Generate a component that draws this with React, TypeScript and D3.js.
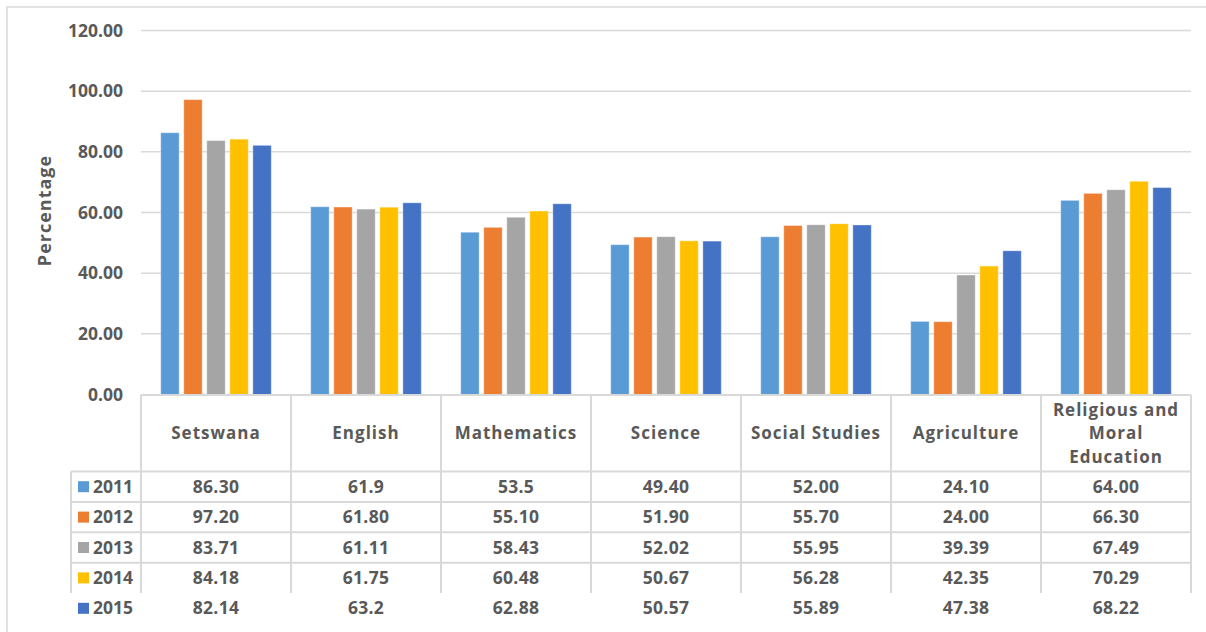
import React from "react";
import * as d3 from "d3";

const categories = ["Setswana", "English", "Mathematics", "Science", "Social Studies", "Agriculture", "Religious and Moral Education"];
const categoryLines = [["Setswana"], ["English"], ["Mathematics"], ["Science"], ["Social Studies"], ["Agriculture"], ["Religious and", "Moral", "Education"]];
const years = ["2011", "2012", "2013", "2014", "2015"];
const colors = ["#5B9BD5", "#ED7D31", "#A5A5A5", "#FFC000", "#4472C4"];
const v2011 = ["86.30", "61.9", "53.5", "49.40", "52.00", "24.10", "64.00"];
const v2012 = ["97.20", "61.80", "55.10", "51.90", "55.70", "24.00", "66.30"];
const v2013 = ["83.71", "61.11", "58.43", "52.02", "55.95", "39.39", "67.49"];
const v2014 = ["84.18", "61.75", "60.48", "50.67", "56.28", "42.35", "70.29"];
const v2015 = ["82.14", "63.2", "62.88", "50.57", "55.89", "47.38", "68.22"];
const series = [v2011, v2012, v2013, v2014, v2015];
const yTicks = [0, 20, 40, 60, 80, 100, 120];

const W = 1206, H = 632;
const FONT = "'Open Sans', sans-serif";
const TEXT = "#595959";
const GRID = "#d9d9d9";

export default function App() {
  const left = 141, right = 1191, top = 30.5, bottom = 394.5;
  const x0 = d3.scaleBand<string>().domain(categories).range([left, right]).padding(0);
  const y = d3.scaleLinear().domain([0, 120]).range([bottom, top]);
  const groupW = x0.bandwidth() * 0.737;
  const x1 = d3.scaleBand<string>().domain(years).range([-groupW / 2, groupW / 2]).paddingInner(0.2).paddingOuter(0);

  const tableTop = 395;
  const headerBottom = 471.5;
  const rowH = 30.4;
  const tableLeft = 71;
  const rowLines = [0, 1, 2, 3].map((i) => headerBottom + i * rowH);
  const tableBottom = headerBottom + 4 * rowH;

  return (
    <div style={{ position: "absolute", left: 0, top: 0 }}>
      <svg width={W} height={H} style={{ display: "block", background: "#fff" }} fontFamily={FONT}>
        <rect x={7} y={7} width={W + 20} height={H + 20} fill="#fff" stroke={GRID} strokeWidth={1.5} />
        {yTicks.map((t) => (
          <g key={t}>
            {t > 0 && <line x1={left} x2={right} y1={y(t)} y2={y(t)} stroke={GRID} strokeWidth={1.5} />}
            <text x={123} y={y(t)} dy="0.35em" textAnchor="end" fontSize={17.5} fontWeight={700} fill={TEXT}>
              {d3.format(".2f")(t)}
            </text>
          </g>
        ))}
        <text transform={`translate(45,${(top + bottom) / 2 - 2}) rotate(-90)`} textAnchor="middle" dy="0.35em" fontSize={18} fontWeight={700} fill={TEXT} letterSpacing={1}>
          Percentage
        </text>
        {categories.map((c, ci) => (
          <g key={c} transform={`translate(${(x0(c) as number) + x0.bandwidth() / 2},0)`}>
            {years.map((yr, si) => {
              const v = parseFloat(series[si][ci]);
              return (
                <rect key={yr} x={x1(yr) as number} y={y(v)} width={x1.bandwidth()} height={y(0) - y(v)} fill={colors[si]} stroke="#fff" strokeOpacity={0.35} strokeWidth={1} />
              );
            })}
          </g>
        ))}
        {/* table grid */}
        <line x1={left} x2={right} y1={tableTop} y2={tableTop} stroke={GRID} strokeWidth={2} />
        {rowLines.map((ry, i) => (
          <line key={i} x1={tableLeft} x2={right} y1={ry} y2={ry} stroke={GRID} strokeWidth={2} />
        ))}
        <line x1={tableLeft} x2={tableLeft} y1={headerBottom} y2={tableBottom} stroke={GRID} strokeWidth={2} />
        {categories.map((c) => (
          <line key={c} x1={x0(c) as number} x2={x0(c) as number} y1={tableTop} y2={tableBottom} stroke={GRID} strokeWidth={2} />
        ))}
        <line x1={right} x2={right} y1={tableTop} y2={tableBottom} stroke={GRID} strokeWidth={2} />
        {categories.map((c, ci) => {
          const lines = categoryLines[ci];
          const cx = (x0(c) as number) + x0.bandwidth() / 2;
          const cy = (tableTop + headerBottom) / 2;
          const lh = 23.5;
          return (
            <text key={c} x={cx} textAnchor="middle" fontSize={17} fontWeight={700} fill={TEXT} letterSpacing={1}>
              {lines.map((l, li) => (
                <tspan key={li} x={cx} y={cy + (li - (lines.length - 1) / 2) * lh} dy="0.35em">
                  {l}
                </tspan>
              ))}
            </text>
          );
        })}
        {years.map((yr, si) => {
          const cy = headerBottom + rowH * (si + 0.5);
          return (
            <g key={yr}>
              <rect x={78} y={cy - 5.5} width={11} height={11} fill={colors[si]} />
              <text x={93} y={cy} dy="0.35em" fontSize={17.5} fontWeight={700} fill={TEXT}>
                {yr}
              </text>
              {categories.map((c, ci) => (
                <text key={c} x={(x0(c) as number) + x0.bandwidth() / 2} y={cy} dy="0.35em" textAnchor="middle" fontSize={17.5} fontWeight={700} fill={TEXT} letterSpacing={0.3}>
                  {series[si][ci]}
                </text>
              ))}
            </g>
          );
        })}
      </svg>
    </div>
  );
}
